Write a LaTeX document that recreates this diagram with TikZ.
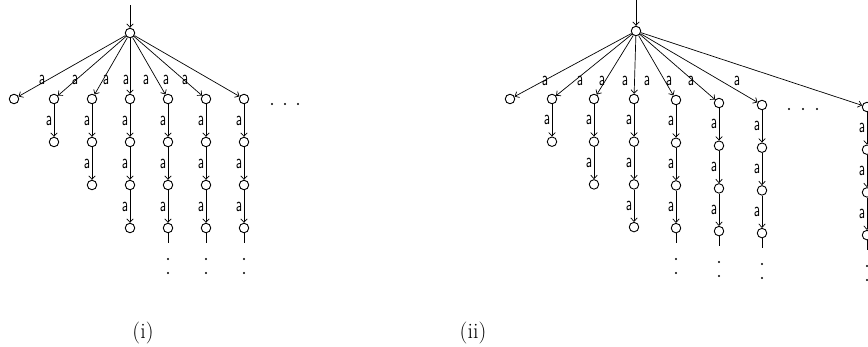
\documentclass[tikz,border=0pt]{standalone}
\usetikzlibrary{arrows.meta}
\newcommand{\albl}{\scalebox{0.95}[1.45]{a}}
\begin{document}
\begin{tikzpicture}[x=1pt,y=-1pt,
 st/.style={circle,draw,minimum size=9.5pt,inner sep=0pt,line width=0.9pt},
 ed/.style={-{Straight Barb[length=3.5pt,width=6.5pt]},line width=0.7pt},
 ln/.style={line width=0.7pt},
 lb/.style={font=\fontsize{14}{14}\selectfont\sffamily,inner sep=0pt},
 vl/.style={lb,left=1.5pt},
 dt/.style={circle,fill,inner sep=0pt,minimum size=2.4pt},
 captxt/.style={font=\fontsize{22}{22}\selectfont,inner sep=0pt}]
\useasboundingbox (0,0) rectangle (868,346);

% ---------- (i) ----------
\node[st] (r1) at (130,33) {};
\coordinate (s1) at (130,5);
\draw[ed] (s1) -- (r1);
\foreach \x/\n/\t in {14/0/0,54/1/0,92/2/0,130/3/0,168/3/1,206/3/1,244/3/1} {
  \node[st] (i\x-0) at (\x,99) {};
  \draw[ed] (r1) -- (i\x-0);
  \ifnum\n>0
  \foreach \k in {1,...,\n} {
    \pgfmathtruncatemacro\pk{\k-1}
    \node[st] (i\x-\k) at (\x,99+43*\k) {};
    \draw[ed] (i\x-\pk) -- node[vl] {\albl} (i\x-\k);
  }
  \fi
  \ifnum\t=1
    \coordinate (it\x) at (\x,243);
    \draw[ln] (i\x-3) -- (it\x);
    \node[dt] (id\x a) at (\x,259) {};
    \node[dt] (id\x b) at (\x,273) {};
  \fi
}
\foreach \x [count=\c] in {42,75,106,126,146,166,185}
  \node[lb] (il\c) at (\x,80) {\albl};
\foreach \x [count=\c] in {272,285,298}
  \node[dt] (ih\c) at (\x,104) {};
\node[captxt] (cap1) at (143,333) {(i)};

% ---------- (ii) ----------
\node[st] (r2) at (636,31) {};
\coordinate (s2) at (636,0);
\draw[ed] (s2) -- (r2);
\foreach \x/\y/\n/\t in {510/99/0/0,552/99/1/0,594/99/2/0,634/99/3/0,676/100/3/1,719/103/3/1,762/105/3/1,867/107/3/1} {
  \node[st] (j\x-0) at (\x,\y) {};
  \draw[ed] (r2) -- (j\x-0);
  \ifnum\n>0
  \foreach \k in {1,...,\n} {
    \pgfmathtruncatemacro\pk{\k-1}
    \node[st] (j\x-\k) at (\x,\y+42.7*\k) {};
    \draw[ed] (j\x-\pk) -- node[vl] {\albl} (j\x-\k);
  }
  \fi
  \ifnum\t=1
    \coordinate (jt\x) at (\x,\y+128+15);
    \draw[ln] (j\x-3) -- (jt\x);
    \node[dt] (jd\x a) at (\x,\y+128+31) {};
    \node[dt] (jd\x b) at (\x,\y+128+45) {};
  \fi
}
\foreach \x [count=\c] in {545,580,602,625,647,669,691,737}
  \node[lb] (jl\c) at (\x,81) {\albl};
\foreach \x [count=\c] in {789,803,817}
  \node[dt] (jh\c) at (\x,109) {};
\node[captxt] (cap2) at (473,333) {(ii)};
\end{tikzpicture}
\end{document}
